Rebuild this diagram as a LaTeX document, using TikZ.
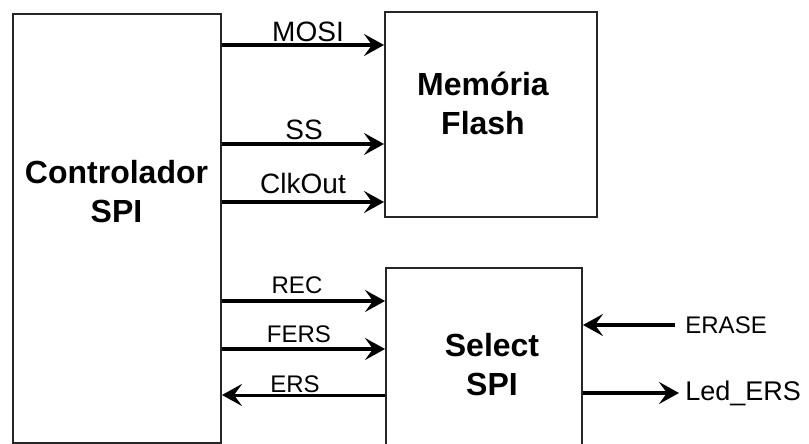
\documentclass[tikz,border=0pt]{standalone}
\usepackage{fontspec}
\setmainfont{Liberation Sans}
\usetikzlibrary{arrows.meta,calc}

\tikzset{
  blk/.style={draw=black!85,line width=1pt,inner sep=0pt},
  title/.style={font=\fontsize{16}{19.5}\selectfont\bfseries,align=center},
  sig/.style={line width=2pt,-{Stealth[length=10pt,width=11pt,inset=4pt]}},
  lblL/.style={font=\fontsize{14}{16}\selectfont,anchor=base,inner sep=0pt},
  lblS/.style={font=\fontsize{12}{14}\selectfont,anchor=base,inner sep=0pt}
}

\begin{document}
\begin{tikzpicture}[x=0.5pt,y=-0.5pt]
      \useasboundingbox (0,0) rectangle (809,444);
      \clip (0,0) rectangle (809,444);

      % blocks
      \node[blk,minimum width=104pt,minimum height=214.5pt] (ctrl) at (117,228.5) {};
      \node[blk,minimum width=106pt,minimum height=102.5pt] (flash) at (491,114.5) {};
      \node[blk,minimum width=98pt,minimum height=97pt] (sel) at (484,365) {};

      \node[title] (ctrltxt) at (116.5,192) {Controlador\\SPI};
      \node[title] (flashtxt) at (483,103) {Memória\\Flash};
      \node[title] (seltxt) at (492,365) {Select\\SPI};

      % controlador -> memoria
      \draw[sig] (ctrl.east |- 0,45) -- (flash.west |- 0,45);
      \draw[sig] (ctrl.east |- 0,144) -- (flash.west |- 0,144);
      \draw[sig] (ctrl.east |- 0,202) -- (flash.west |- 0,202);
      \node[lblL] (mosi) at (308,42) {MOSI};
      \node[lblL] (ss) at (304,140) {SS};
      \node[lblL] (clkout) at (303,193) {ClkOut};

      % controlador <-> select
      \draw[sig] (ctrl.east |- 0,301) -- (sel.west |- 0,301);
      \draw[sig] (ctrl.east |- 0,349) -- (sel.west |- 0,349);
      \draw[sig,line width=1.5pt] (sel.west |- 0,395) -- (ctrl.east |- 0,395);
      \node[lblS] (rec) at (297,293) {REC};
      \node[lblS] (fers) at (299,342) {FERS};
      \node[lblS] (ers) at (295,392) {ERS};

      % select inputs / outputs
      \node[lblS,anchor=west] (erase) at (685,325) {ERASE};
      \node[font=\fontsize{13.5}{15}\selectfont,anchor=west,inner sep=0pt] (led) at (685,393) {Led\_ERS};
      \draw[sig] ([xshift=-5pt]erase.west) -- (sel.east |- erase.west);
      \draw[sig] (sel.east |- led.west) -- ([xshift=-3pt]led.west);
\end{tikzpicture}
\end{document}
